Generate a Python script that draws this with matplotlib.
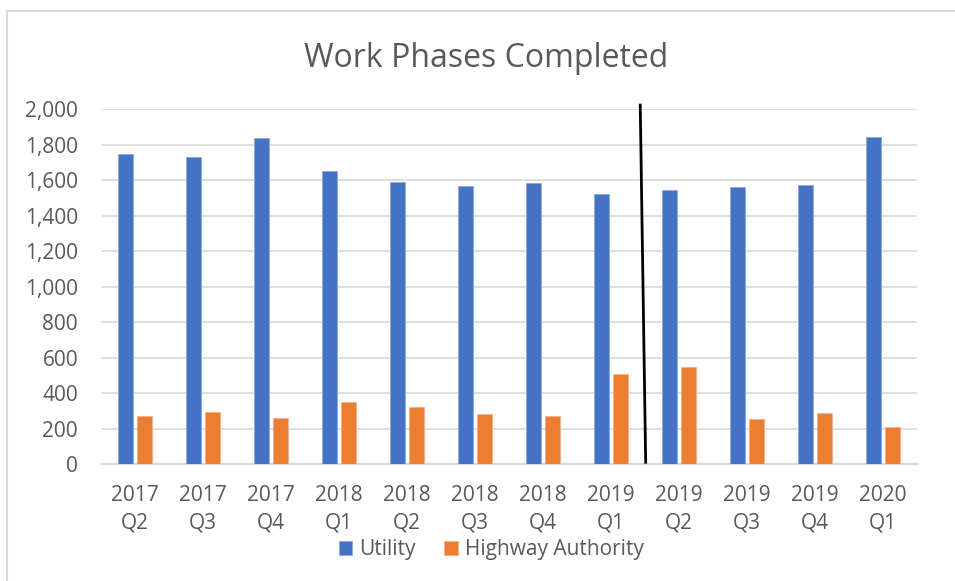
import matplotlib
matplotlib.use("Agg")
import matplotlib.pyplot as plt
import numpy as np
from matplotlib.ticker import FuncFormatter, MultipleLocator

categories = ["2017\nQ2", "2017\nQ3", "2017\nQ4", "2018\nQ1", "2018\nQ2", "2018\nQ3",
              "2018\nQ4", "2019\nQ1", "2019\nQ2", "2019\nQ3", "2019\nQ4", "2020\nQ1"]
utility = [1750, 1730, 1840, 1650, 1590, 1570, 1585, 1520, 1543, 1563, 1571, 1844]
highway = [273, 296, 258, 352, 320, 284, 273, 510, 548, 252, 286, 207]
series_names = ["Utility", "Highway Authority"]

plt.rcParams['font.family'] = ['Open Sans', 'DejaVu Sans']
TXT = "#595959"
BLUE = "#4472C4"
ORANGE = "#ED7D31"

fig = plt.figure(figsize=(9.55, 5.81), dpi=100)
# chart border (top and left visible)
fig.add_artist(plt.Line2D([7/955, 1.0], [1 - 11/581, 1 - 11/581], color="#d9d9d9", lw=1.5))
fig.add_artist(plt.Line2D([7/955, 7/955], [0.0, 1 - 11/581], color="#d9d9d9", lw=1.5))

ax = fig.add_axes([101/955, 1 - 464/581, (917 - 101)/955, (464 - 109.3)/581])
x = np.arange(len(categories))
w = 0.22
ax.bar(x - 0.14, utility, width=w, color=BLUE, edgecolor="#8faadc", linewidth=0.6, label=series_names[0], zorder=3)
ax.bar(x + 0.14, highway, width=w, color=ORANGE, edgecolor="#f4b183", linewidth=0.6, label=series_names[1], zorder=3)

ax.set_xlim(-0.5, len(categories) - 0.5)
ax.set_ylim(0, 2000)
ax.yaxis.set_major_locator(MultipleLocator(200))
ax.yaxis.set_major_formatter(FuncFormatter(lambda v, p: f"{int(v):,}"))
ax.grid(axis="y", color="#d9d9d9", lw=1.2, zorder=0)
ax.set_axisbelow(True)
for s in ["top", "right", "left"]:
    ax.spines[s].set_visible(False)
ax.spines["bottom"].set_color("#d9d9d9")
ax.spines["bottom"].set_linewidth(1.5)
ax.set_xticks(x)
ax.set_xticklabels(categories, linespacing=1.42)
ax.tick_params(axis="both", length=0, labelsize=15, colors=TXT)
ax.tick_params(axis="x", pad=15)
ax.tick_params(axis="y", pad=16.5)
for lbl in ax.get_yticklabels() + ax.get_xticklabels():
    lbl.set_color(TXT)

# annotation divider line
ax.plot([7.43, 7.51], [2024, 10], color="black", lw=2, clip_on=False, zorder=5)

fig.text(486.5/955, 1 - 66.7/581, "Work Phases Completed", ha="center", va="baseline", fontsize=23, color=TXT)

leg = fig.legend(loc="center", bbox_to_anchor=(491/955, 1 - 550/581), ncol=2, frameon=False,
                 fontsize=15, handlelength=0.67, handleheight=0.67, handletextpad=0.3, columnspacing=1.4,
                 borderpad=0, borderaxespad=0)
for t in leg.get_texts():
    t.set_color(TXT)

fig.savefig("out.png", dpi=100)
